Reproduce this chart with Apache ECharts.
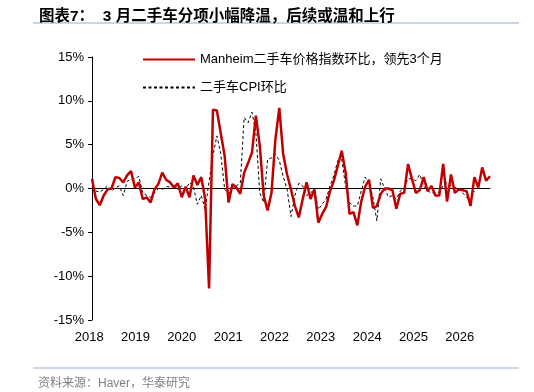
<!DOCTYPE html>
<html>
<head>
<meta charset="utf-8">
<script src="https://cdn.jsdelivr.net/npm/echarts@6/dist/echarts.min.js"></script>
<style>
html,body{margin:0;padding:0;background:#fff;}
#c{width:534px;height:392px;}
</style>
</head>
<body>
<div id="c"></div>
<script>
const yearLabels = ['2018','2019','2020','2021','2022','2023','2024','2025','2026'];
const yTicks = { min: -15, max: 15, interval: 5 };
const manheim = [
  1.1,-1.2,-1.9,-0.8,-0.1,0.0,1.3,1.2,0.7,1.5,2.0,0.1,
  0.7,-1.2,-1.0,-1.6,-0.1,0.5,1.8,1.0,0.7,0.1,0.6,-1.0,
  0.2,-1.0,1.5,0.4,1.3,-1.2,-11.4,9.0,8.9,6.3,3.7,-1.6,
  0.5,0.1,-0.6,1.8,2.9,4.1,8.3,4.9,-0.8,-2.5,-0.5,5.6,
  9.2,3.9,1.6,-0.1,-2.0,-3.3,-1.2,0.7,-1.2,-0.1,-3.9,-2.9,
  -2.1,-0.3,0.9,2.6,4.3,1.8,-2.9,-2.7,-4.2,-1.5,0.2,1.0,
  -2.2,-2.0,-0.6,0.0,0.0,-0.2,-2.3,-0.6,-0.5,2.8,1.1,-0.5,
  -0.2,1.3,-0.3,0.3,-0.8,-0.8,2.8,-1.5,1.6,-0.5,-0.1,-0.2,
  -0.3,-2.0,1.3,0.1,2.4,0.9,1.4
];
const usedCarCPI = [
  0.2,-0.3,-0.4,-0.1,0.3,-0.3,0.1,0.3,-0.8,0.8,1.1,1.1,
  1.4,-0.5,-0.8,-1.0,-0.5,0.0,-0.1,0.2,0.2,0.4,-0.1,0.3,
  -0.1,0.7,0.2,-1.8,-0.8,-2.4,0.8,3.8,6.0,4.0,-0.1,-0.6,
  0.0,0.3,0.6,8.1,7.5,8.7,6.4,-0.5,-1.6,3.3,3.5,3.9,
  3.2,1.4,-0.1,-3.2,-0.8,0.6,0.3,-0.8,-0.5,-0.1,-2.4,-1.8,
  -1.2,0.3,1.5,3.2,3.3,0.3,-1.6,-2.0,-2.0,-0.3,1.3,0.6,
  -1.0,-3.7,1.1,0.0,-1.0,-0.8,-1.2,-0.3,0.1,1.1,1.1,0.9,
  1.6,0.3,-0.3,-0.5,-0.5,-0.4,0.3,0.7,0.3,0.1,0.0,-0.5,
  -1.0,-1.5,-0.3,null,null,null,null
];
const months = manheim.map((_, i) => (2018 + Math.floor(i / 12)) + '-' + String(i % 12 + 1).padStart(2, '0'));

const FONT = '"Liberation Sans", Arial, "Noto Sans CJK SC", sans-serif';

const chart = echarts.init(document.getElementById('c'), null, { renderer: 'canvas' });
chart.setOption({
  animation: false,
  backgroundColor: '#fff',
  textStyle: { fontFamily: FONT },
  title: [
    { text: '图表7：  3 月二手车分项小幅降温，后续或温和上行', left: 34, top: 4,
      textStyle: { fontFamily: FONT, fontSize: 15.5, fontWeight: 'bold', color: '#000' } },
    { text: '资料来源：Haver，华泰研究', left: 33, top: 373,
      textStyle: { fontFamily: FONT, fontSize: 12, fontWeight: 'normal', color: '#808080' } }
  ],
  graphic: [
    { type: 'line', shape: { x1: 33, y1: 23, x2: 519, y2: 23 }, style: { stroke: '#B8C9DC', lineWidth: 1.5 } },
    { type: 'line', shape: { x1: 33, y1: 368, x2: 519, y2: 368 }, style: { stroke: '#B8C9DC', lineWidth: 1.5 } }
  ],
  legend: {
    orient: 'vertical', left: 137, top: 48, itemWidth: 52, itemHeight: 14, itemGap: 15,
    itemStyle: { opacity: 0 },
    textStyle: { fontFamily: FONT, fontSize: 13, color: '#000' },
    data: ['Manheim二手车价格指数环比，领先3个月', '二手车CPI环比']
  },
  grid: [
    { left: 92, top: 57, width: 398, height: 263 },
    { left: 66, top: 57, width: 417, height: 263 }
  ],
  xAxis: [
    { type: 'category', gridIndex: 0, data: months, boundaryGap: false,
      axisLine: { show: true, onZero: true, lineStyle: { color: '#000', width: 1 } },
      axisTick: { show: false }, axisLabel: { show: false }, splitLine: { show: false } },
    { type: 'category', gridIndex: 1, data: yearLabels, boundaryGap: true, position: 'bottom',
      axisLine: { show: false, onZero: false }, axisTick: { show: false },
      axisLabel: { fontFamily: FONT, fontSize: 13, color: '#000', margin: 11 } }
  ],
  yAxis: [
    { type: 'value', gridIndex: 0, min: yTicks.min, max: yTicks.max, interval: yTicks.interval,
      axisLine: { show: true, lineStyle: { color: '#000', width: 1 } },
      axisTick: { show: true, length: 4, lineStyle: { color: '#000' } },
      axisLabel: { fontFamily: FONT, fontSize: 13, color: '#000', margin: 8, formatter: '{value}%' },
      splitLine: { show: false } },
    { type: 'value', gridIndex: 1, show: false, min: yTicks.min, max: yTicks.max }
  ],
  series: [
    { name: '二手车CPI环比', type: 'line', xAxisIndex: 0, yAxisIndex: 0, data: usedCarCPI,
      symbol: 'none', connectNulls: false,
      lineStyle: { color: '#000', width: 1, type: [3, 2.5] }, itemStyle: { color: '#000' }, z: 2 },
    { name: 'Manheim二手车价格指数环比，领先3个月', type: 'line', xAxisIndex: 0, yAxisIndex: 0, data: manheim,
      symbol: 'none',
      lineStyle: { color: '#C00000', width: 2.5 }, itemStyle: { color: '#C00000' }, z: 3 }
  ]
});
</script>
</body>
</html>
